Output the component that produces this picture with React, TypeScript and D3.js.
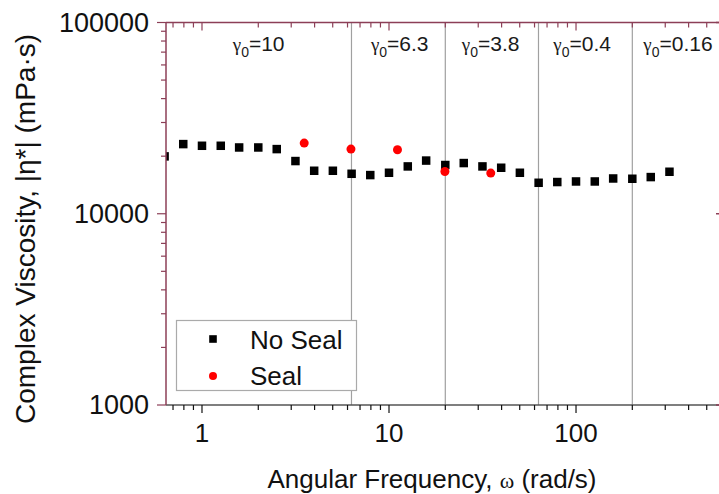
import React from "react";
import * as d3 from "d3";

// ---- data ----
const noSealFreq = [0.631, 0.794, 1.0, 1.26, 1.58, 2.0, 2.51, 3.16, 3.98, 5.01, 6.31, 7.94, 10.0, 12.6, 15.8, 20.0, 25.1, 31.6, 39.8, 50.1, 63.1, 79.4, 100, 126, 158, 200, 251, 316];
const noSealVisc = [19950, 23130, 22670, 22670, 22210, 22210, 21780, 18860, 16780, 16780, 16180, 15930, 16380, 17680, 18970, 17980, 18410, 17680, 17400, 16380, 14520, 14650, 14750, 14750, 15290, 15240, 15550, 16580];
const sealFreq = [3.52, 6.26, 11.1, 19.9, 35.0];
const sealVisc = [23420, 21780, 21600, 16640, 16320];
const xTickValues = [1, 10, 100];
const yTickValues = [1000, 10000, 100000];
const gridFreqs = [6.3, 20, 63, 200];
const strainValues = ["10", "6.3", "3.8", "0.4", "0.16"];
const strainLabelFreqs = [1.46, 8.0, 24.5, 75.6, 229];
const legendLabels = ["No Seal", "Seal"];

const W = 719, H = 494;
const L = 166, R = 721, T = 22.5, B = 405;
const AXIS = "#8c3f57";
const FONT = "'Liberation Sans', Arial, sans-serif";

export default function App() {
  const x = d3.scaleLog().domain([0.642, 596]).range([L, R]);
  const y = d3.scaleLog().domain([1000, 100000]).range([B, T]);
  const xTicks = x.ticks();
  const yTicks = y.ticks();
  const isMajor = (v: number) => Math.abs(Math.log10(v) - Math.round(Math.log10(v))) < 1e-6;
  const sq = 8.5;

  return (
    <svg width={W} height={H} style={{ position: "absolute", left: 0, top: 0, background: "#fff" }} fontFamily={FONT}>
      <defs>
        <clipPath id="plot">
          <rect x={L} y={T} width={R - L} height={B - T} />
        </clipPath>
      </defs>
      <rect x={0} y={0} width={W} height={H} fill="#fff" />
      {/* grid lines */}
      {gridFreqs.map((f) => (
        <line key={f} x1={x(f)} x2={x(f)} y1={T} y2={B} stroke="#a0a0a0" strokeWidth={1.2} />
      ))}
      {/* strain labels */}
      {strainLabelFreqs.map((f, i) => (
        <text key={i} x={x(f)} y={51} fontSize={21} fill="#1a1a1a">
          <tspan fontFamily="'Liberation Serif', 'Times New Roman', serif" fontSize={19}>γ</tspan>
          <tspan fontSize={14} dy={6}>0</tspan>
          <tspan dy={-6}>{"=" + strainValues[i]}</tspan>
        </text>
      ))}
      {/* data */}
      <g clipPath="url(#plot)">
        {noSealFreq.map((f, i) => (
          <rect key={i} x={x(f) - sq / 2} y={y(noSealVisc[i]) - sq / 2} width={sq} height={sq} fill="#000" />
        ))}
        {sealFreq.map((f, i) => (
          <circle key={i} cx={x(f)} cy={y(sealVisc[i])} r={4.5} fill="#ff0000" />
        ))}
      </g>
      {/* top axis */}
      <line x1={L} x2={W} y1={T} y2={T} stroke={AXIS} strokeWidth={1.5} />
      {xTicks.map((t, i) => (
        <line key={i} x1={x(t)} x2={x(t)} y1={T} y2={T + (isMajor(t) ? 8 : 5)} stroke={AXIS} strokeWidth={1.2} />
      ))}
      {/* bottom axis */}
      <line x1={L} x2={W} y1={B} y2={B} stroke="#555" strokeWidth={1.5} />
      {xTicks.map((t, i) => (
        <line key={i} x1={x(t)} x2={x(t)} y1={B} y2={B + (isMajor(t) ? 8 : 5)} stroke="#111" strokeWidth={1.2} />
      ))}
      {xTickValues.map((t) => (
        <text key={t} x={x(t)} y={442} fontSize={26} textAnchor="middle" fill="#111">{t}</text>
      ))}
      {/* left axis */}
      <line x1={L} x2={L} y1={T} y2={B} stroke={AXIS} strokeWidth={1.5} />
      {yTicks.map((t, i) => (
        <line key={i} x1={L} x2={L - (isMajor(t) ? 9 : 5)} y1={y(t)} y2={y(t)} stroke={AXIS} strokeWidth={1.2} />
      ))}
      {yTickValues.map((t) => (
        <text key={t} x={149} y={y(t)} dy="0.35em" fontSize={27} textAnchor="end" fill="#111">{t}</text>
      ))}
      {/* right axis (mostly outside the frame) */}
      <line x1={R} x2={R} y1={T} y2={B} stroke={AXIS} strokeWidth={1.5} />
      {yTickValues.map((t) => (
        <line key={t} x1={R} x2={R - 5} y1={y(t)} y2={y(t)} stroke={AXIS} strokeWidth={1.5} />
      ))}
      {/* axis titles */}
      <text x={432} y={488} fontSize={26} textAnchor="middle" fill="#111">
        Angular Frequency, <tspan fontFamily="'Liberation Serif', 'Times New Roman', serif" fontSize={22}>ω</tspan> (rad/s)
      </text>
      <text transform="translate(35,229) rotate(-90)" fontSize={28} textAnchor="middle" fill="#111">
        Complex Viscosity, |η*| (mPa·s)
      </text>
      {/* legend */}
      <rect x={176.5} y={320.5} width={180} height={70} fill="#fff" stroke="#aaa" strokeWidth={1.2} />
      <rect x={213 - 3.8} y={339 - 3.8} width={7.6} height={7.6} fill="#000" />
      <circle cx={213} cy={376} r={4} fill="#ff0000" />
      <text x={250} y={349} fontSize={26} fill="#111">{legendLabels[0]}</text>
      <text x={250} y={385} fontSize={26} fill="#111">{legendLabels[1]}</text>
    </svg>
  );
}
